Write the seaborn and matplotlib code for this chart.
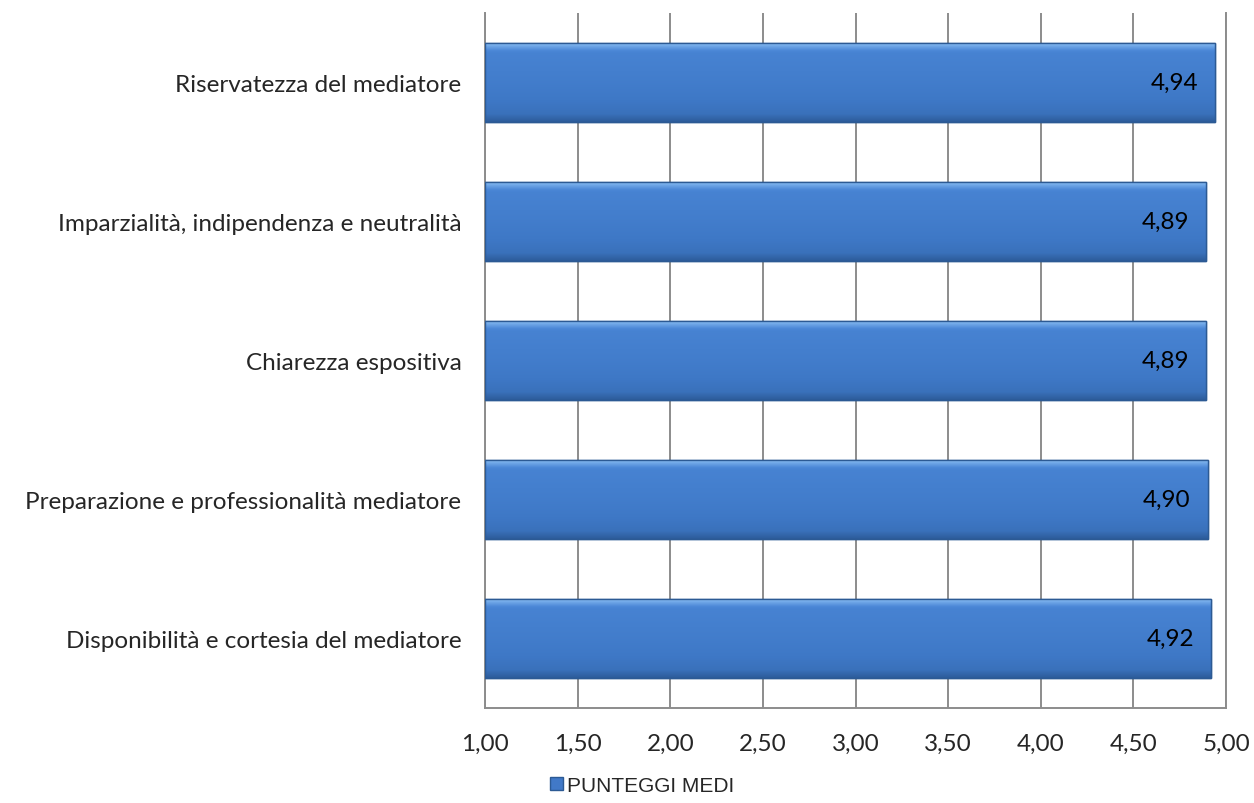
import matplotlib.pyplot as plt
import numpy as np
import pandas as pd
import seaborn as sns
from matplotlib.patches import Patch

# data (top to bottom as shown)
categories = ["Riservatezza del mediatore",
              "Imparzialità, indipendenza e neutralità",
              "Chiarezza espositiva",
              "Preparazione e professionalità mediatore",
              "Disponibilità e cortesia del mediatore"]
values = [4.94, 4.89, 4.89, 4.90, 4.92]
xticks = [1.0, 1.5, 2.0, 2.5, 3.0, 3.5, 4.0, 4.5, 5.0]
legend_label = "PUNTEGGI MEDI"

df = pd.DataFrame({"cat": categories, "val": values})

sns.set_style("white")
plt.rcParams['font.family'] = ['Lato', 'DejaVu Sans']

fig = plt.figure(figsize=(12.54, 8.04), dpi=100)
ax = fig.add_axes([0.3868, 0.1182, 0.5909, 0.8644])

sns.barplot(data=df, x="val", y="cat", orient="h", color="#4179C8",
            width=0.575, edgecolor="#2C5A94", linewidth=1.0, ax=ax, zorder=3)

ax.set_xlim(1, 5)
ax.set_xticks(xticks)
ax.set_xticklabels([f"{t:.2f}".replace(".", ",") for t in xticks], fontsize=17.5)
ax.tick_params(axis="y", labelsize=17.5, length=0, pad=17)
ax.tick_params(axis="x", length=0, pad=18)
ax.set_xlabel("")
ax.set_ylabel("")
ax.xaxis.grid(True, color="#8c8c8c", linewidth=1.4, zorder=0)
ax.set_axisbelow(True)
for s in ["left", "bottom", "right"]:
    ax.spines[s].set_color("#8c8c8c")
    ax.spines[s].set_linewidth(1.4)
ax.spines["top"].set_visible(False)

# gradient shading on bars: light band on top, darker toward bottom
pos = np.linspace(0, 1, 200)
shade = np.interp(pos, [0, 0.06, 0.14, 0.5, 0.9, 1.0], [0, 0.2, 0.42, 0.55, 0.75, 1.0])
grad = shade.reshape(-1, 1)
cmap = sns.blend_palette(["#92C6F7", "#4A86D6", "#3E78C6", "#2D5C9A"], as_cmap=True)
for p in ax.patches:
    x0, y0 = p.get_x(), p.get_y()
    w, h = p.get_width(), p.get_height()
    im = ax.imshow(grad, extent=(1, x0 + w, y0 + h, y0), aspect="auto",
                   cmap=cmap, vmin=0, vmax=1, zorder=3.5, origin="upper")
    im.set_clip_path(p)
    ax.add_patch(plt.Rectangle((1, y0), x0 + w - 1, h, fill=False,
                               edgecolor="#2C5A94", linewidth=1.0, zorder=4))
ax.set_xlim(1, 5)
ax.set_ylim(4.5, -0.5)

for i, v in enumerate(values):
    ax.text(v - 0.09, i, f"{v:.2f}".replace(".", ","), ha="right", va="center",
            fontsize=17.5, color="black", zorder=5)

handle = Patch(facecolor="#4179C8", edgecolor="#2C5A94")
fig.legend([handle], [legend_label], loc="center", bbox_to_anchor=(0.512, 0.022),
           frameon=False, prop={"family": "Liberation Sans", "size": 15},
           handlelength=0.6, handleheight=0.6, handletextpad=0.2)

fig.savefig("out.png", dpi=100)
